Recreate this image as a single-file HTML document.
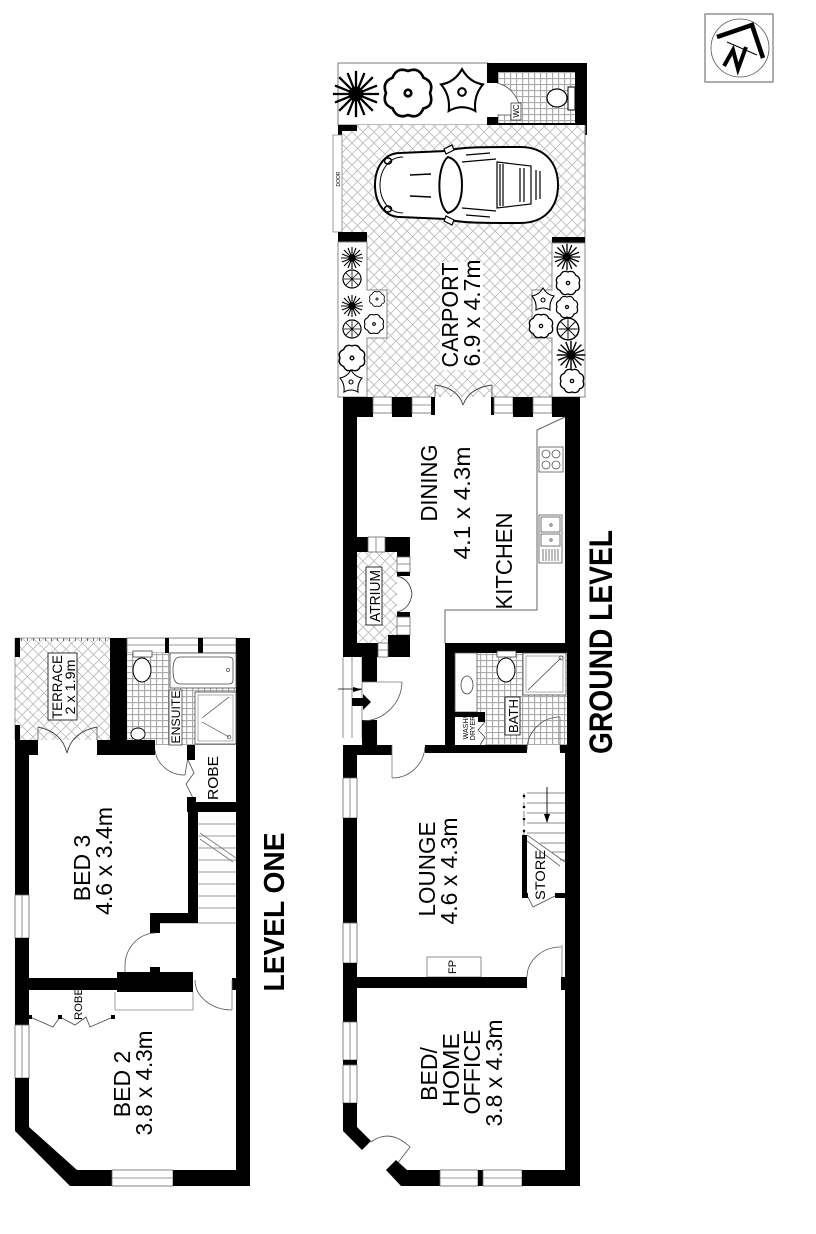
<!DOCTYPE html>
<html><head><meta charset="utf-8"><style>
html,body{margin:0;padding:0;background:#fff;}
svg{display:block;}
text{font-family:"Liberation Sans",Arial,sans-serif;fill:#000;}
.lbl{font-size:23px;}
.bold{font-weight:bold;}
.gl{stroke:#777;stroke-width:0.8;fill:none;}
.win{fill:#fff;stroke:#666;stroke-width:0.8;}
</style></head><body>
<svg width="816" height="1234" viewBox="0 0 816 1234" xmlns="http://www.w3.org/2000/svg">
<defs>
<pattern id="hatch" width="11" height="11" patternUnits="userSpaceOnUse">
 <rect width="11" height="11" fill="#fff"/>
 <path d="M0,0 L11,11 M11,0 L0,11" stroke="#bbb" stroke-width="0.8"/>
</pattern>
<pattern id="tile" width="6" height="6" patternUnits="userSpaceOnUse">
 <rect width="6" height="6" fill="#fff"/>
 <path d="M0,0.5 H6 M0.5,0 V6" stroke="#aaa" stroke-width="1.3"/>
</pattern>
<g id="fern" stroke="#000" stroke-width="1.1" fill="none">
 <path d="M-11,0 L11,0 M0,-11 L0,11 M-8,-8 L8,8 M-8,8 L8,-8 M-10,-4 L10,4 M-10,4 L10,-4 M-4,-10 L4,10 M4,-10 L-4,10"/>
 <circle r="3" fill="#000"/>
</g>
<g id="shrub" stroke="#000" stroke-width="1.2" fill="#fff">
 <path d="M0,-10 Q5,-12 7,-7 Q12,-5 10,0 Q12,6 7,7 Q5,12 0,10 Q-5,12 -7,7 Q-12,5 -10,0 Q-12,-5 -7,-7 Q-5,-12 0,-10 Z"/>
 <circle r="1.5" fill="none"/>
</g>
<g id="round" stroke="#000" stroke-width="1.2" fill="#fff">
 <circle r="9"/>
 <path d="M-6,-6 L6,6 M-6,6 L6,-6 M-8,0 L8,0 M0,-8 L0,8" stroke-width="0.8"/>
</g>
<g id="lily" stroke="#000" stroke-width="1.1" fill="#fff">
 <path d="M0,-12 Q4,-5 11,-4 Q6,2 7,10 Q0,6 -7,10 Q-6,2 -11,-4 Q-4,-5 0,-12 Z"/>
 <circle r="2" fill="none"/>
</g>
</defs>

<!-- ================= NORTH ARROW ================= -->
<rect x="705" y="14" width="68" height="68" fill="#fff" stroke="#777" stroke-width="1.2"/>
<circle cx="740" cy="48" r="29" fill="none" stroke="#555" stroke-width="0.8"/>
<path d="M717,37 L752,25 L763,58" stroke="#000" stroke-width="4.5" fill="none"/>
<path d="M724,66 L733,50 L738,69 L746,47" stroke="#000" stroke-width="4" fill="none"/>
<path d="M727,42 L757,55" stroke="#000" stroke-width="1"/>

<!-- ================= CARPORT ================= -->
<rect x="338" y="63" width="150" height="62" fill="#fff" stroke="#777" stroke-width="1"/>
<use href="#fern" transform="translate(356,94) scale(2.1)"/>
<use href="#shrub" transform="translate(408,93) scale(2.2)"/>
<use href="#lily" transform="translate(462,92) scale(1.9)"/>

<!-- WC -->
<rect x="487" y="63" width="100" height="72" fill="#000"/>
<rect x="498" y="72" width="77" height="51" fill="url(#tile)"/>
<rect x="487" y="83" width="11" height="34" fill="#fff"/>
<path d="M497,83 A30,30 0 0 1 520,115 L497,115" stroke="#444" stroke-width="0.8" fill="#fff"/>
<rect x="568" y="87" width="7" height="23" fill="#fff" stroke="#000" stroke-width="1"/>
<ellipse cx="557" cy="98" rx="10" ry="9" fill="#fff" stroke="#000" stroke-width="1.2"/>
<rect x="511" y="103" width="10" height="17" fill="#fff" stroke="#000" stroke-width="0.6"/>
<text transform="translate(519,111) rotate(-90)" font-size="8" text-anchor="middle">WC</text>

<!-- carport floor -->
<rect x="338" y="125" width="247" height="272" fill="url(#hatch)"/>
<path d="M585,125 V397" stroke="#888" stroke-width="1"/>
<rect x="338" y="125" width="19" height="6" fill="#000"/>
<rect x="338" y="125" width="4" height="10" fill="#000"/>
<rect x="333" y="135" width="9" height="97" fill="#fff" stroke="#888" stroke-width="0.8"/>
<text transform="translate(340,179) rotate(-90)" font-size="5" text-anchor="middle">DOOR</text>
<rect x="338" y="232" width="29" height="10" fill="#000"/>
<rect x="552" y="237" width="33" height="6" fill="#000"/>

<polygon points="338,242 367,242 367,290 387,290 387,338 367,338 367,397 338,397" fill="#fff" stroke="#888" stroke-width="1"/>
<polygon points="552,243 585,243 585,397 552,397 552,338 532,338 532,290 552,290" fill="#fff" stroke="#888" stroke-width="1"/>

<use href="#fern" transform="translate(352,258)"/>
<use href="#round" transform="translate(352,279)"/>
<use href="#shrub" transform="translate(377,299) scale(0.7)"/>
<use href="#fern" transform="translate(352,306)"/>
<use href="#round" transform="translate(352,329)"/>
<use href="#shrub" transform="translate(374,324) scale(0.9)"/>
<use href="#shrub" transform="translate(352,358) scale(1.2)"/>
<use href="#lily" transform="translate(351,382)"/>

<use href="#fern" transform="translate(567,257) scale(1.2)"/>
<use href="#shrub" transform="translate(568,283) scale(1.1)"/>
<use href="#lily" transform="translate(543,300)"/>
<use href="#shrub" transform="translate(567,307)"/>
<use href="#shrub" transform="translate(541,326) scale(1.1)"/>
<use href="#round" transform="translate(568,329) scale(1.2)"/>
<use href="#fern" transform="translate(571,355) scale(1.3)"/>
<use href="#shrub" transform="translate(572,381) scale(1.1)"/>

<!-- car -->
<g stroke="#000" fill="none">
<path d="M400,153 C384,153 375,168 375,185 C375,202 384,217 400,217 L446,219 C460,223 480,223 520,223 C546,223 558,206 558,185 C558,164 546,147 520,147 C480,147 460,147 446,151 Z" fill="#fff" stroke-width="2"/>
<path d="M403,157 C389,157 380,170 380,185 C380,200 389,213 403,213" stroke-width="1"/>
<ellipse cx="388" cy="161" rx="3.5" ry="3" stroke-width="1.5"/>
<ellipse cx="388" cy="209" rx="3.5" ry="3" stroke-width="1.5"/>
<path d="M410,175 L431,174 M410,196 L431,197" stroke-width="1.5"/>
<path d="M448,157 C437,165 436,205 448,213 C458,210 462,200 462,185 C462,170 458,160 448,157 Z" stroke-width="2" fill="#fff"/>
<path d="M462,162 L496,159 M462,208 L496,211 M466,155 L490,153 M466,215 L490,217" stroke-width="1.2"/>
<path d="M497,162 L531,166 L531,204 L497,208 Z" stroke-width="1.2"/>
<path d="M500,164 V206 M503,164 V206 M520,168 V202 M524,168 V202 M536,170 V200 M540,171 V199" stroke-width="1.2"/>
<path d="M444,149 L452,145 L454,150 L446,154 Z M444,221 L452,225 L454,220 L446,216 Z" fill="#fff" stroke-width="1.2"/>
</g>

<rect x="440" y="262" width="43" height="108" fill="#fff"/>
<text class="lbl" transform="translate(458,315) rotate(-90)" text-anchor="middle" textLength="105" lengthAdjust="spacingAndGlyphs">CARPORT</text>
<text class="lbl" transform="translate(480,313) rotate(-90)" text-anchor="middle" textLength="107" lengthAdjust="spacingAndGlyphs">6.9 x 4.7m</text>

<!-- carport doors -->
<path d="M435,385 V397 M492,385 V397" stroke="#444" stroke-width="0.8"/>
<path d="M435,385 Q458,388 463,405 M492,385 Q469,388 463,405" stroke="#444" stroke-width="0.9" fill="none"/>

<!-- ================= GROUND LEVEL ================= -->
<!-- top wall -->
<rect x="343" y="397" width="30" height="20" fill="#000"/>
<rect x="373" y="397" width="19" height="16" class="win"/><path d="M373,405 H392" class="gl"/>
<rect x="392" y="397" width="20" height="20" fill="#000"/>
<rect x="412" y="397" width="20" height="16" class="win"/><path d="M412,405 H432" class="gl"/>
<rect x="431" y="397" width="4" height="18" fill="#000"/>
<rect x="491" y="397" width="3" height="18" fill="#000"/>
<rect x="494" y="397" width="19" height="16" class="win"/><path d="M494,405 H513" class="gl"/>
<rect x="513" y="397" width="20" height="20" fill="#000"/>
<rect x="533" y="397" width="19" height="16" class="win"/><path d="M533,405 H552" class="gl"/>
<rect x="552" y="397" width="28" height="20" fill="#000"/>

<!-- right wall -->
<rect x="565" y="397" width="15" height="789" fill="#000"/>

<!-- left wall -->
<rect x="343" y="397" width="14" height="260" fill="#000"/>

<!-- kitchen bench -->
<path d="M565,417 L537,430 L537,610 L445,610 L445,643" stroke="#666" stroke-width="1" fill="none"/>
<rect x="539" y="447" width="24" height="25" fill="#fff" stroke="#555" stroke-width="0.8"/>
<g fill="none" stroke="#555" stroke-width="0.8">
<circle cx="546" cy="454" r="4"/><circle cx="556" cy="454" r="4"/>
<circle cx="546" cy="465" r="4"/><circle cx="556" cy="465" r="4"/>
<rect x="539" y="515" width="23" height="48"/>
<rect x="541" y="517" width="19" height="15"/>
<rect x="541" y="534" width="19" height="12"/>
<circle cx="551" cy="525" r="1.2"/><circle cx="551" cy="540" r="1.2"/>
<path d="M543,549 V561 M546,549 V561 M549,549 V561 M552,549 V561 M555,549 V561 M558,549 V561"/>
</g>

<!-- atrium -->
<rect x="357" y="552" width="40" height="91" fill="url(#hatch)"/>
<rect x="357" y="537" width="53" height="15" fill="#000"/>
<rect x="368" y="537" width="17" height="15" class="win"/><path d="M376,537 V552" class="gl"/>
<rect x="397" y="552" width="13" height="5" fill="#000"/>
<rect x="397" y="557" width="13" height="15" class="win"/><path d="M397,564 H410" class="gl"/>
<rect x="397" y="572" width="13" height="4" fill="#000"/>
<rect x="397" y="612" width="13" height="5" fill="#000"/>
<rect x="397" y="617" width="13" height="18" class="win"/><path d="M397,626 H410" class="gl"/>
<rect x="388" y="635" width="22" height="22" fill="#000"/>
<rect x="357" y="643" width="31" height="14" fill="#000"/>
<rect x="378" y="643" width="10" height="14" class="win"/><path d="M378,650 H388" class="gl"/>
<path d="M397,576 Q410,579 412,594 M397,612 Q410,609 412,594" stroke="#444" stroke-width="0.9" fill="none"/>
<rect x="366" y="567" width="16" height="58" fill="#fff" stroke="#000" stroke-width="0.8"/>
<text transform="translate(380,596) rotate(-90)" font-size="15" text-anchor="middle" textLength="52" lengthAdjust="spacingAndGlyphs">ATRIUM</text>

<!-- entry -->
<rect x="343" y="657" width="19" height="81" fill="#fff"/>
<path d="M343,657 V738 M352,657 V738 M362,657 V738" stroke="#777" stroke-width="0.8"/>
<rect x="362" y="657" width="15" height="25" fill="#000"/>
<rect x="362" y="720" width="15" height="25" fill="#000"/>
<path d="M362,682 H402" stroke="#777" stroke-width="0.8"/>
<path d="M402,682 A40,40 0 0 1 363,721" stroke="#555" stroke-width="0.8" fill="none"/>
<path d="M338,689 H362" stroke="#000" stroke-width="0.8"/>
<polygon points="353,687 362,689.5 353,692" fill="#000"/>
<polygon points="352,698 363,698 363,694 371,702 363,710 363,706 352,706" fill="#000"/>
<rect x="343" y="745" width="49" height="10" fill="#000"/>
<rect x="343" y="755" width="14" height="23" fill="#000"/>

<!-- lounge top wall + door -->
<rect x="425" y="745" width="102" height="8" fill="#000"/>
<path d="M392,745 V778" stroke="#777" stroke-width="0.8"/>
<path d="M392,778 A33,33 0 0 0 425,747" stroke="#555" stroke-width="0.8" fill="none"/>

<!-- bath -->
<rect x="455" y="653" width="112" height="92" fill="url(#tile)"/>
<rect x="445" y="643" width="122" height="10" fill="#000"/>
<rect x="445" y="643" width="10" height="110" fill="#000"/>
<rect x="455" y="653" width="22" height="59" fill="#fff" stroke="#555" stroke-width="0.8"/>
<ellipse cx="467" cy="685" rx="6" ry="9" fill="none" stroke="#444" stroke-width="0.8"/>
<rect x="497" y="651" width="19" height="6" fill="#fff" stroke="#444" stroke-width="0.8"/>
<ellipse cx="506" cy="670" rx="9" ry="12" fill="#fff" stroke="#000" stroke-width="1"/>
<rect x="523" y="653" width="43" height="42" fill="#fff" stroke="#444" stroke-width="0.8"/>
<rect x="526" y="656" width="37" height="36" fill="none" stroke="#777" stroke-width="0.6"/>
<path d="M528,690 L561,658" stroke="#444" stroke-width="0.8"/>
<circle cx="561" cy="658" r="2" fill="none" stroke="#444" stroke-width="0.7"/>
<rect x="505" y="697" width="15" height="38" fill="#fff" stroke="#000" stroke-width="0.8"/>
<text transform="translate(518,716) rotate(-90)" font-size="13" text-anchor="middle" textLength="34" lengthAdjust="spacingAndGlyphs">BATH</text>
<rect x="455" y="712" width="30" height="33" fill="#fff"/>
<rect x="453" y="712" width="27" height="5" fill="#000"/>
<rect x="478" y="712" width="7" height="10" fill="#000"/>
<path d="M485,722 L478,730 L485,737 L480,745" stroke="#444" stroke-width="0.8" fill="none"/>
<text transform="translate(468,728) rotate(-90)" font-size="7" text-anchor="middle">WASH/</text>
<text transform="translate(475,728) rotate(-90)" font-size="7" text-anchor="middle">DRYER</text>
<path d="M527,750 A33,33 0 0 1 560,717" stroke="#555" stroke-width="0.8" fill="none"/>
<path d="M560,717 V750" stroke="#777" stroke-width="0.8"/>
<rect x="560" y="745" width="6" height="8" fill="#000"/>

<!-- ground stairs / store -->
<g stroke="#666" stroke-width="0.8" fill="none">
<path d="M527,793 H565 M527,803 H565 M527,813 H565 M527,823 H565 M527,833 H565 M540,843 H565 M552,852 H565 M560,860 H565"/>
<path d="M524,793 V835" stroke-dasharray="6,3"/>
<path d="M527,835 L565,862 M527,841 L560,866"/>
</g>
<circle cx="524" cy="796" r="1.3"/><circle cx="524" cy="807" r="1.3"/><circle cx="524" cy="819" r="1.3"/><circle cx="524" cy="831" r="1.3"/>
<path d="M547,787 V818" stroke="#000" stroke-width="0.9"/>
<polygon points="544,814 550,814 547,823" fill="#000"/>
<rect x="522" y="835" width="5" height="63" fill="#000"/>
<rect x="522" y="893" width="6" height="5" fill="#000"/>
<rect x="555" y="893" width="11" height="5" fill="#000"/>
<path d="M528,897 L533,907 L555,896" stroke="#444" stroke-width="0.8" fill="none"/>
<text transform="translate(545,875) rotate(-90)" font-size="14" text-anchor="middle" textLength="50" lengthAdjust="spacingAndGlyphs">STORE</text>

<!-- lounge left wall windows -->
<rect x="343" y="778" width="14" height="40" class="win"/><path d="M350,778 V818" class="gl"/>
<rect x="343" y="818" width="14" height="105" fill="#000"/>
<rect x="343" y="923" width="14" height="40" class="win"/><path d="M350,923 V963" class="gl"/>
<rect x="343" y="963" width="14" height="59" fill="#000"/>

<!-- FP + partition -->
<rect x="427" y="957" width="54" height="20" fill="#fff" stroke="#777" stroke-width="0.8"/>
<text transform="translate(456,967) rotate(-90)" font-size="11" text-anchor="middle">FP</text>
<rect x="357" y="977" width="170" height="11" fill="#000"/>
<rect x="561" y="977" width="5" height="13" fill="#000"/>
<path d="M562,945 V977" stroke="#777" stroke-width="0.8"/>
<path d="M527,977 A34,30 0 0 1 561,947" stroke="#555" stroke-width="0.8" fill="none"/>

<!-- bedroom walls -->
<rect x="343" y="1022" width="14" height="38" class="win"/><path d="M350,1022 V1060" class="gl"/>
<rect x="343" y="1060" width="14" height="5" fill="#000"/>
<rect x="343" y="1065" width="14" height="38" class="win"/><path d="M350,1065 V1103" class="gl"/>
<polygon points="343,1103 357,1103 357,1127 371,1141 362,1150 343,1131" fill="#000"/>
<path d="M371,1142 Q390,1128 410,1147 L397,1164" stroke="#555" stroke-width="0.8" fill="none"/>
<polygon points="386,1170 396,1160 407,1170 440,1170 440,1186 401,1186" fill="#000"/>
<rect x="440" y="1170" width="38" height="16" class="win"/><path d="M440,1178 H478" class="gl"/>
<rect x="478" y="1170" width="5" height="16" fill="#000"/>
<rect x="483" y="1170" width="39" height="16" class="win"/><path d="M483,1178 H522" class="gl"/>
<rect x="522" y="1170" width="58" height="16" fill="#000"/>

<!-- ground labels -->
<text class="lbl" transform="translate(437,483) rotate(-90)" text-anchor="middle" textLength="77" lengthAdjust="spacingAndGlyphs">DINING</text>
<text class="lbl" transform="translate(470,503) rotate(-90)" text-anchor="middle" textLength="113" lengthAdjust="spacingAndGlyphs">4.1 x 4.3m</text>
<text class="lbl" transform="translate(512,561) rotate(-90)" text-anchor="middle" textLength="97" lengthAdjust="spacingAndGlyphs">KITCHEN</text>
<text class="lbl" transform="translate(435,869) rotate(-90)" text-anchor="middle" textLength="95" lengthAdjust="spacingAndGlyphs">LOUNGE</text>
<text class="lbl" transform="translate(457,871) rotate(-90)" text-anchor="middle" textLength="107" lengthAdjust="spacingAndGlyphs">4.6 x 4.3m</text>
<text class="lbl" transform="translate(437,1074) rotate(-90)" text-anchor="middle">BED/</text>
<text class="lbl" transform="translate(459,1070) rotate(-90)" text-anchor="middle" textLength="74" lengthAdjust="spacingAndGlyphs">HOME</text>
<text class="lbl" transform="translate(480,1072) rotate(-90)" text-anchor="middle" textLength="85" lengthAdjust="spacingAndGlyphs">OFFICE</text>
<text class="lbl" transform="translate(502,1073) rotate(-90)" text-anchor="middle" textLength="107" lengthAdjust="spacingAndGlyphs">3.8 x 4.3m</text>
<text class="bold" font-size="32" transform="translate(612,642) rotate(-90)" text-anchor="middle" textLength="224" lengthAdjust="spacingAndGlyphs">GROUND LEVEL</text>

<!-- ================= LEVEL ONE ================= -->
<!-- terrace -->
<rect x="15" y="638" width="95" height="102" fill="url(#hatch)"/>
<path d="M15,638 V740" stroke="#888" stroke-width="0.8"/>
<path d="M15,639.5 H110" stroke="#666" stroke-width="3" stroke-dasharray="1,5"/>
<path d="M15,638 H110" stroke="#888" stroke-width="0.8"/>
<rect x="15" y="638" width="5" height="19" fill="#000"/>
<rect x="15" y="725" width="5" height="15" fill="#000"/>
<rect x="48" y="653" width="29" height="67" fill="#fff" stroke="#000" stroke-width="0.8"/>
<text transform="translate(62,687) rotate(-90)" font-size="14" text-anchor="middle" textLength="64" lengthAdjust="spacingAndGlyphs">TERRACE</text>
<text transform="translate(75,687) rotate(-90)" font-size="14" text-anchor="middle" textLength="55" lengthAdjust="spacingAndGlyphs">2 x 1.9m</text>

<!-- ensuite block -->
<rect x="110" y="638" width="17" height="117" fill="#000"/>
<rect x="127" y="638" width="109" height="15" class="win"/><path d="M127,645 H236" class="gl"/>
<rect x="165" y="638" width="4" height="15" fill="#000"/>
<rect x="198" y="638" width="5" height="15" fill="#000"/>
<rect x="236" y="638" width="14" height="548" fill="#000"/>
<rect x="127" y="653" width="109" height="92" fill="url(#tile)"/>
<rect x="133" y="651" width="19" height="6" fill="#fff" stroke="#444" stroke-width="0.8"/>
<ellipse cx="142" cy="670" rx="9" ry="12" fill="#fff" stroke="#000" stroke-width="1"/>
<ellipse cx="138" cy="734" rx="7" ry="6" fill="#fff" stroke="#000" stroke-width="0.9"/>
<rect x="170" y="653" width="66" height="35" fill="#fff" stroke="#444" stroke-width="0.8"/>
<path d="M180,657 H229 Q233,657 233,661 V680 Q233,684 229,684 H180 Q173,684 173,670 Q173,657 180,657 Z" fill="none" stroke="#444" stroke-width="0.8"/>
<circle cx="228" cy="670" r="1.5" fill="none" stroke="#444" stroke-width="0.7"/>
<rect x="195" y="692" width="41" height="52" fill="#fff" stroke="#444" stroke-width="0.8"/>
<rect x="198" y="695" width="35" height="46" fill="none" stroke="#777" stroke-width="0.6"/>
<path d="M202,718 L229,697 M202,722 L229,737" stroke="#444" stroke-width="0.7"/>
<circle cx="229" cy="737" r="1.8" fill="none" stroke="#444" stroke-width="0.7"/>
<rect x="169" y="690" width="13" height="55" fill="#fff" stroke="#000" stroke-width="0.6"/>
<text transform="translate(180,717) rotate(-90)" font-size="12" text-anchor="middle" textLength="53" lengthAdjust="spacingAndGlyphs">ENSUITE</text>

<!-- bed 3 top wall -->
<rect x="15" y="740" width="23" height="15" fill="#000"/>
<rect x="97" y="740" width="58" height="15" fill="#000"/>
<path d="M38,727 V740 M97,727 V740" stroke="#555" stroke-width="0.8"/>
<path d="M38,727 Q62,732 67,753 M97,727 Q72,732 67,753" stroke="#444" stroke-width="0.9" fill="none"/>
<path d="M155,750 A30,28 0 0 0 185,775 L188,757" stroke="#555" stroke-width="0.8" fill="none"/>
<rect x="187" y="745" width="8" height="15" fill="#000"/>
<path d="M188,760 L194,773 L186,784 L193,798" stroke="#444" stroke-width="0.8" fill="none"/>
<rect x="187" y="797" width="9" height="15" fill="#000"/>
<rect x="187" y="802" width="63" height="10" fill="#000"/>
<text transform="translate(218,778) rotate(-90)" font-size="15" text-anchor="middle" textLength="44" lengthAdjust="spacingAndGlyphs">ROBE</text>

<!-- level one stairs -->
<rect x="188" y="812" width="10" height="111" fill="#000"/>
<g stroke="#777" stroke-width="0.8" fill="none">
<path d="M198,824 H236 M198,836 H236 M198,848 H236 M198,860 H236 M198,872 H236 M198,884 H236 M198,896 H236 M198,908 H236 M160,923 H236"/>
<path d="M200,833 L236,858 M200,839 L233,862"/>
</g>
<rect x="150" y="913" width="48" height="10" fill="#000"/>
<rect x="150" y="913" width="10" height="20" fill="#000"/>
<path d="M155,933 A31,33 0 0 0 125,966 L125,972" stroke="#555" stroke-width="0.8" fill="none"/>
<rect x="150" y="967" width="10" height="6" fill="#000"/>

<!-- level one left wall -->
<rect x="15" y="755" width="14" height="140" fill="#000"/>
<rect x="15" y="895" width="14" height="43" class="win"/><path d="M22,895 V938" class="gl"/>
<rect x="15" y="938" width="14" height="87" fill="#000"/>
<rect x="15" y="1025" width="14" height="53" class="win"/><path d="M22,1025 V1078" class="gl"/>
<polygon points="15,1078 29,1078 29,1127 77,1170 112,1170 112,1186 70,1186 15,1131" fill="#000"/>
<rect x="112" y="1170" width="61" height="16" class="win"/><path d="M112,1178 H173" class="gl"/>
<rect x="173" y="1170" width="77" height="16" fill="#000"/>

<!-- bed3 / bed2 partition -->
<rect x="29" y="978" width="88" height="12" fill="#000"/>
<rect x="117" y="972" width="76" height="20" fill="#000"/>
<rect x="232" y="978" width="5" height="12" fill="#000"/>
<path d="M195,980 A37,30 0 0 0 232,1010" stroke="#555" stroke-width="0.8" fill="none"/>
<path d="M232,980 V1010" stroke="#777" stroke-width="0.8"/>
<path d="M115,992 V1010 H193 V992" stroke="#888" stroke-width="0.8" fill="none"/>
<path d="M30,1017 L53,1027 L60,1017 L75,1025 L86,1017 L90,1027 L113,1017" stroke="#444" stroke-width="0.8" fill="none"/>
<rect x="28" y="1015" width="4" height="4" fill="#000"/>
<rect x="58" y="1015" width="4" height="4" fill="#000"/>
<rect x="111" y="1015" width="4" height="4" fill="#000"/>
<text transform="translate(82,1004) rotate(-90)" font-size="11" text-anchor="middle" textLength="32" lengthAdjust="spacingAndGlyphs">ROBE</text>

<!-- level one labels -->
<text class="lbl" transform="translate(90,868) rotate(-90)" text-anchor="middle">BED 3</text>
<text class="lbl" transform="translate(112,861) rotate(-90)" text-anchor="middle" textLength="108" lengthAdjust="spacingAndGlyphs">4.6 x 3.4m</text>
<text class="lbl" transform="translate(130,1084) rotate(-90)" text-anchor="middle">BED 2</text>
<text class="lbl" transform="translate(152,1083) rotate(-90)" text-anchor="middle" textLength="105" lengthAdjust="spacingAndGlyphs">3.8 x 4.3m</text>
<text class="bold" font-size="29" transform="translate(284,912) rotate(-90)" text-anchor="middle" textLength="159" lengthAdjust="spacingAndGlyphs">LEVEL ONE</text>
</svg>
</body></html>
